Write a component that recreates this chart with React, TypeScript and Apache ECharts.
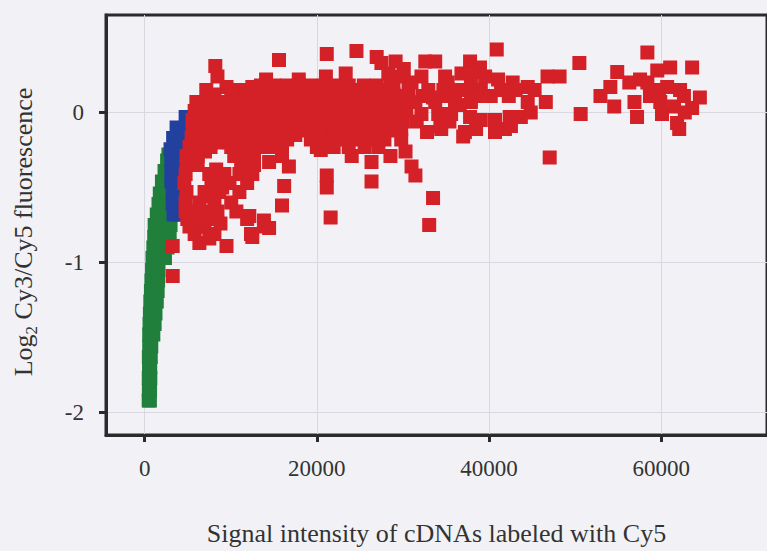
import React, { useEffect, useRef } from "react";
import * as echarts from "echarts";

const xTicks = [0, 20000, 40000, 60000];
const yTicks = [-2, -1, 0];
const xTitle = "Signal intensity of cDNAs labeled with Cy5";
const yTitleParts = ["Log", "2", " Cy3/Cy5 fluorescence"];

const greenPoints: [number, number][] = [
  [460, -1.92], [600, -1.92], [480, -1.85], [620, -1.85], [470, -1.77], [650, -1.77],
  [500, -1.7], [640, -1.7], [480, -1.63], [700, -1.63], [520, -1.56], [760, -1.56],
  [520, -1.48], [1000, -1.48], [560, -1.41], [1150, -1.41], [600, -1.34], [1250, -1.34],
  [650, -1.26], [1400, -1.26], [720, -1.19], [1500, -1.19], [780, -1.12], [1550, -1.12],
  [850, -1.05], [1600, -1.05], [900, -0.97], [1750, -0.97], [2350, -0.97],
  [1000, -0.9], [1850, -0.9], [2650, -0.9], [1100, -0.83], [1950, -0.83], [2900, -0.83],
  [1150, -0.75], [2100, -0.75], [3000, -0.75], [1400, -0.68], [2300, -0.68], [3100, -0.68],
  [1600, -0.61], [2450, -0.61], [1750, -0.54], [2600, -0.54], [2000, -0.46], [2700, -0.46],
  [2300, -0.39], [2800, -0.39], [2600, -0.32], [2750, -0.28],
];

const bluePoints: [number, number][] = [
  [4750, -0.03], [5450, -0.03], [3700, -0.1], [4750, -0.1], [3300, -0.17], [4400, -0.17],
  [3000, -0.245], [4150, -0.245], [3100, -0.32], [4150, -0.32], [3100, -0.39], [4050, -0.39],
  [3100, -0.46], [4050, -0.46], [3250, -0.54], [4050, -0.54], [3250, -0.61], [4050, -0.61],
  [3350, -0.68], [4050, -0.68],
];

const redPoints: [number, number][] = [
  // low-intensity part of the cloud
  [8200, 0.31], [8450, 0.24], [9500, 0.17], [12500, 0.17], [7150, 0.15], [11000, 0.15],
  [8100, 0.12], [10050, 0.12], [11800, 0.12], [13050, 0.12],
  [6000, 0.07], [7150, 0.07], [8300, 0.07], [9600, 0.07], [11000, 0.07], [12350, 0.07],
  [6600, 0.04], [7700, 0.04], [8800, 0.04], [9900, 0.04], [11000, 0.04], [12100, 0.04], [13300, 0.04],
  [5800, 0.01], [6950, 0.01], [8100, 0.01], [9250, 0.01], [10400, 0.01], [11700, 0.01], [12850, 0.01],
  [6300, -0.02], [7400, -0.02], [8500, -0.02], [9700, -0.02], [10800, -0.02], [12000, -0.02], [13200, -0.02],
  [5550, -0.05], [6700, -0.05], [7850, -0.05], [8900, -0.05], [10050, -0.05], [11350, -0.05], [12600, -0.05],
  [6200, -0.08], [7400, -0.08], [8600, -0.08], [9900, -0.08], [11200, -0.08], [12400, -0.08],
  [5550, -0.11], [6800, -0.11], [8100, -0.11], [9350, -0.11], [10650, -0.11], [11900, -0.11], [13050, -0.11],
  [6100, -0.14], [7300, -0.14], [8600, -0.14], [9900, -0.14], [11600, -0.14], [12900, -0.14],
  [5450, -0.17], [6700, -0.17], [7950, -0.17], [9350, -0.17], [11000, -0.17], [12350, -0.17],
  [5900, -0.2], [7000, -0.2], [8300, -0.2], [9800, -0.2], [11300, -0.2], [12600, -0.2],
  [5200, -0.23], [6350, -0.23], [7650, -0.23], [10050, -0.23], [11550, -0.23], [12950, -0.23],
  [5400, -0.26], [7000, -0.26], [11200, -0.26], [12700, -0.26],
  [4850, -0.29], [6150, -0.29], [10400, -0.29], [12150, -0.29],
  [4850, -0.35], [6150, -0.35], [11200, -0.35], [12700, -0.35], [8300, -0.38],
  [4750, -0.41], [7500, -0.41], [9250, -0.41], [11000, -0.41], [12500, -0.41],
  [4600, -0.47], [7750, -0.47], [9850, -0.47], [11900, -0.47], [9000, -0.5],
  [4850, -0.53], [6950, -0.53], [8650, -0.53], [11000, -0.53], [7500, -0.56],
  [4750, -0.6], [6350, -0.6], [8100, -0.6], [10050, -0.6],
  [4750, -0.66], [8450, -0.66], [10650, -0.66], [5600, -0.66], [7000, -0.66],
  [4950, -0.71], [6350, -0.71], [7750, -0.71], [11900, -0.71], [8800, -0.74],
  [5200, -0.76], [6950, -0.76], [13850, -0.76], [14450, -0.77], [6600, -0.76],
  [5800, -0.81], [8100, -0.81], [12350, -0.81], [6350, -0.87], [7500, -0.84],
  [3250, -0.89], [9500, -0.89], [3250, -1.09],
  // middle dense part
  [24600, 0.41], [21150, 0.39], [26950, 0.37], [15600, 0.35], [27500, 0.33], [23350, 0.26],
  [28300, 0.26], [21050, 0.24], [14100, 0.22], [17900, 0.22],
  [13500, 0.18], [15050, 0.18], [16550, 0.18], [17900, 0.18], [19300, 0.18], [20800, 0.18],
  [22300, 0.18], [23700, 0.18], [25450, 0.18], [26950, 0.18], [28550, 0.18],
  [14300, 0.15], [15800, 0.15], [17300, 0.15], [18900, 0.15], [20400, 0.15], [22000, 0.15],
  [23500, 0.15], [25000, 0.15], [26500, 0.15], [28000, 0.15],
  [13850, 0.12], [15400, 0.12], [16750, 0.12], [18250, 0.12], [19750, 0.12], [21400, 0.12],
  [22750, 0.12], [24300, 0.12], [25800, 0.12], [27400, 0.12], [28900, 0.12],
  [14300, 0.09], [15800, 0.09], [17300, 0.09], [18900, 0.09], [20400, 0.09], [22000, 0.09],
  [23500, 0.09], [25000, 0.09], [26500, 0.09], [28000, 0.09],
  [13500, 0.06], [15050, 0.06], [16550, 0.06], [17900, 0.06], [19400, 0.06], [20900, 0.06],
  [22550, 0.06], [23950, 0.06], [26250, 0.06], [27750, 0.06],
  [14300, 0.03], [15900, 0.03], [17500, 0.03], [19000, 0.03], [20600, 0.03], [22200, 0.03],
  [23800, 0.03], [25400, 0.03], [27000, 0.03],
  [14200, 0.0], [15600, 0.0], [17200, 0.0], [18600, 0.0], [20250, 0.0], [21750, 0.0],
  [23250, 0.0], [24850, 0.0], [26600, 0.0], [28300, 0.0],
  [14300, -0.03], [15900, -0.03], [17500, -0.03], [19000, -0.03], [20600, -0.03], [22200, -0.03],
  [23800, -0.03], [25400, -0.03], [27000, -0.03], [28700, -0.03],
  [13500, -0.06], [15050, -0.06], [16750, -0.06], [18150, -0.06], [19650, -0.06], [21150, -0.06],
  [22750, -0.06], [24400, -0.06], [26000, -0.06], [27750, -0.06],
  [14300, -0.09], [15900, -0.09], [17500, -0.09], [19000, -0.09], [20600, -0.09], [22200, -0.09],
  [23800, -0.09], [25400, -0.09], [27000, -0.09],
  [14000, -0.12], [15600, -0.12], [17350, -0.12], [19050, -0.12], [20450, -0.12], [21950, -0.12],
  [23700, -0.12], [25300, -0.12], [26950, -0.12], [28550, -0.12],
  [14300, -0.15], [15900, -0.15], [17500, -0.15], [20200, -0.15], [22000, -0.15], [23500, -0.15],
  [25300, -0.15], [27000, -0.15],
  [13500, -0.18], [15050, -0.18], [16550, -0.18], [19300, -0.18], [21050, -0.18], [22750, -0.18],
  [24400, -0.18], [26250, -0.18], [27850, -0.18],
  [14450, -0.23], [15950, -0.23], [20000, -0.23], [21950, -0.23], [23700, -0.23], [25550, -0.23], [27150, -0.23],
  [15950, -0.29], [20450, -0.25], [24050, -0.29], [28550, -0.29], [14450, -0.33], [26350, -0.33],
  [16750, -0.36], [21150, -0.42], [26350, -0.46], [16200, -0.49], [21150, -0.5], [15950, -0.62],
  [21600, -0.7], [13850, -0.72], [12500, -0.83], [12150, -0.69],
  // 28000 - 46000
  [40900, 0.42], [29150, 0.34], [32600, 0.34], [33750, 0.34], [37800, 0.34], [38950, 0.3],
  [30100, 0.29], [38400, 0.27], [28900, 0.2], [29900, 0.09], [30000, -0.06], [29000, -0.03],
  [29500, 0.24], [32150, 0.24], [34900, 0.24], [37900, 0.24], [39550, 0.24], [41050, 0.22],
  [42750, 0.2], [44500, 0.17],
  [28650, 0.15], [30650, 0.15], [32950, 0.15], [34700, 0.15], [36050, 0.15], [37550, 0.15],
  [39050, 0.15], [41400, 0.15], [43100, 0.15], [45300, 0.15],
  [30200, 0.11], [32300, 0.11], [35000, 0.11], [38600, 0.11], [40200, 0.11], [42300, 0.11],
  [29150, 0.07], [31450, 0.07], [33750, 0.07], [36050, 0.07], [37900, 0.07], [44500, 0.07],
  [29500, -0.01], [32150, -0.01], [34100, -0.01], [35600, -0.01], [37800, -0.03], [39050, -0.05],
  [40700, -0.05], [42400, -0.03], [43700, -0.03],
  [29800, -0.11], [34450, -0.11], [37200, -0.13], [38500, -0.11], [40700, -0.13], [41850, -0.11],
  [29800, -0.18], [30300, -0.26], [31000, -0.36], [31450, -0.42], [33500, -0.57], [33050, -0.75],
  [48200, 0.24], [46600, 0.07], [42550, -0.09], [37000, -0.16], [34350, -0.09],
  [35200, 0.2], [31000, 0.2], [36800, 0.26], [33500, 0.1], [30400, 0.02], [31600, -0.06],
  [35400, -0.06], [36600, 0.05], [32800, -0.13],
  // 46000 - 65000
  [46800, 0.24], [44850, 0.0], [47050, -0.3], [50500, 0.33], [50650, -0.01],
  [52950, 0.11], [54100, 0.17], [54900, 0.27], [54550, 0.04], [56300, 0.2], [56900, 0.07],
  [57200, -0.03], [57550, 0.22], [58400, 0.4], [58400, 0.2], [58700, 0.11], [59550, 0.28],
  [59750, 0.15], [59900, 0.07], [60100, -0.01], [60700, 0.17], [61050, 0.3], [61500, 0.04],
  [61850, -0.07], [62100, -0.11], [62200, 0.15], [62650, 0.11], [62750, 0.0], [63600, 0.3],
  [63600, 0.03], [64500, 0.1],
];

const serif = "'Liberation Serif', 'Times New Roman', serif";
const ink = "#2b2b2b";
const textColor = "#333333";

export default function App() {
  const ref = useRef<HTMLDivElement>(null);
  useEffect(() => {
    const chart = echarts.init(ref.current as HTMLDivElement, null, { renderer: "svg" });
    chart.setOption({
      animation: false,
      backgroundColor: "#f2f2f6",
      grid: {
        left: 106,
        right: -3,
        top: 15,
        bottom: 113,
        show: true,
        borderColor: ink,
        borderWidth: 3,
        backgroundColor: "transparent",
      },
      xAxis: {
        type: "value",
        min: -4500,
        max: 72300,
        axisLine: { show: true, onZero: false, lineStyle: { color: ink, width: 3 } },
        axisTick: { show: true, customValues: xTicks, length: 7, lineStyle: { color: ink, width: 3 } },
        axisLabel: {
          customValues: xTicks,
          formatter: (v: number) => String(v),
          fontFamily: serif,
          fontSize: 23,
          color: textColor,
          margin: 22,
        },
        splitLine: { show: true, customValues: xTicks, lineStyle: { color: "#d8d8e0", width: 1 } },
        name: xTitle,
        nameLocation: "middle",
        nameGap: 85,
        nameTextStyle: { fontFamily: serif, fontSize: 26, color: textColor },
      },
      yAxis: {
        type: "value",
        min: -2.15,
        max: 0.65,
        axisLine: { show: true, onZero: false, lineStyle: { color: ink, width: 3 } },
        axisTick: { show: true, customValues: yTicks, length: 7, lineStyle: { color: ink, width: 3 } },
        axisLabel: {
          customValues: yTicks,
          formatter: (v: number) => String(v),
          fontFamily: serif,
          fontSize: 23,
          color: textColor,
          margin: 22,
        },
        splitLine: { show: true, customValues: yTicks, lineStyle: { color: "#d8d8e0", width: 1 } },
        name: `{a|${yTitleParts[0]}}{s|${yTitleParts[1]}}{a|${yTitleParts[2]}}`,
        nameLocation: "middle",
        nameGap: 66,
        nameTextStyle: {
          fontFamily: serif,
          fontSize: 26,
          color: textColor,
          padding: [0, 14, 0, 0],
          rich: {
            a: { fontFamily: serif, fontSize: 26, color: textColor, lineHeight: 30 },
            s: { fontFamily: serif, fontSize: 17, color: textColor, lineHeight: 34, verticalAlign: "bottom" },
          },
        },
      },
      series: [
        {
          type: "scatter",
          data: greenPoints,
          symbol: "rect",
          symbolSize: 14,
          itemStyle: { color: "#1f7f3b", opacity: 1 },
          z: 2,
        },
        {
          type: "scatter",
          data: bluePoints,
          symbol: "rect",
          symbolSize: 14,
          itemStyle: { color: "#22409e", opacity: 1 },
          z: 3,
        },
        {
          type: "scatter",
          data: redPoints,
          symbol: "rect",
          symbolSize: 14,
          itemStyle: { color: "#d42027", opacity: 1 },
          z: 4,
        },
      ],
    });
    return () => chart.dispose();
  }, []);
  return (
    <div
      ref={ref}
      style={{ position: "fixed", left: 0, top: 0, width: 767, height: 551 }}
    />
  );
}
